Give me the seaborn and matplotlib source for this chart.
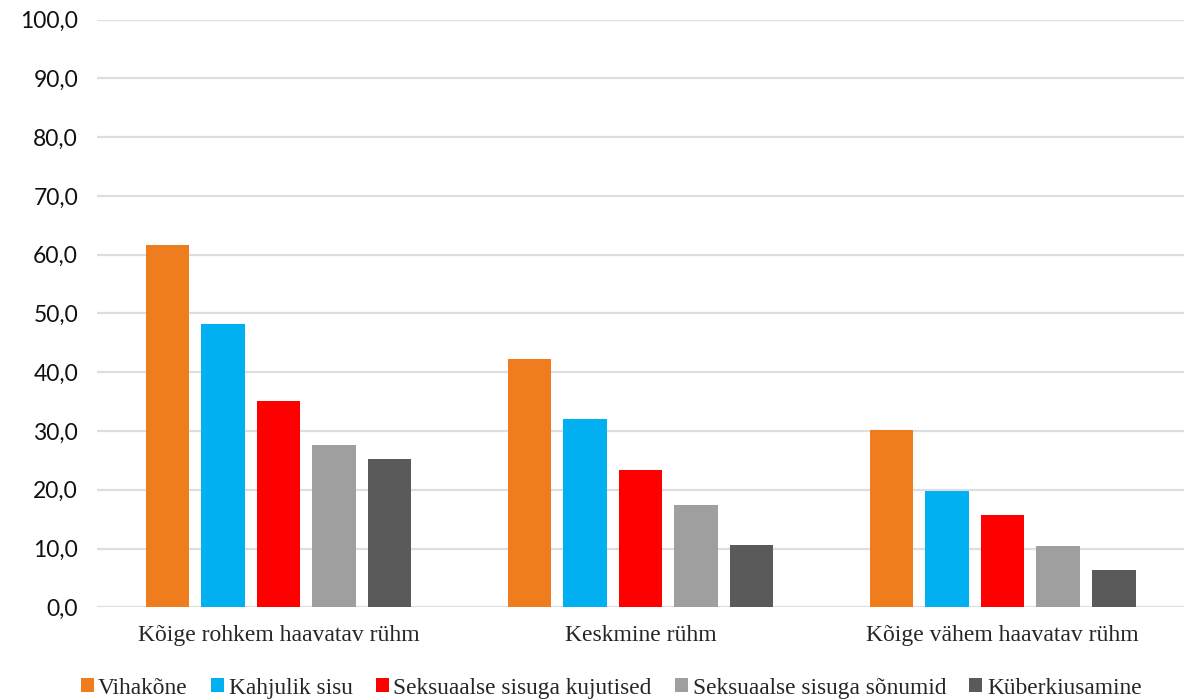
import numpy as np
import pandas as pd
import matplotlib
matplotlib.use("Agg")
import matplotlib.pyplot as plt
import seaborn as sns
from matplotlib.ticker import FuncFormatter, MultipleLocator

# groups on the x axis
groups = ["Kõige rohkem haavatav rühm", "Keskmine rühm", "Kõige vähem haavatav rühm"]

# series (hue), values
series = ["Vihakõne", "Kahjulik sisu", "Seksuaalse sisuga kujutised",
          "Seksuaalse sisuga sõnumid", "Küberkiusamine"]
vihakone = [61.6, 42.3, 30.2]
kahjulik = [48.2, 32.0, 19.8]
kujutised = [35.1, 23.4, 15.7]
sonumid = [27.7, 17.4, 10.4]
kiusamine = [25.3, 10.6, 6.3]

colors = ["#EF7D1E", "#00B0F0", "#FF0000", "#9F9F9F", "#5A5A5A"]

values = [vihakone, kahjulik, kujutised, sonumid, kiusamine]
df = pd.DataFrame({
    "group": groups * len(series),
    "series": np.repeat(series, len(groups)),
    "value": np.concatenate(values),
})

sns.set_style("white")

fig = plt.figure(figsize=(11.89, 7.0), dpi=100)
ax = fig.add_axes([0.082, 0.1324, 0.9135, 0.8395])

sns.barplot(data=df, x="group", y="value", hue="series", order=groups,
            hue_order=series, palette=colors, saturation=1,
            width=0.767, gap=0.215, linewidth=0, ax=ax)

ax.set_ylim(0, 100)
ax.set_xlim(-0.5, 2.5)
ax.yaxis.set_major_locator(MultipleLocator(10))
ax.yaxis.set_major_formatter(FuncFormatter(lambda v, p: f"{v:.1f}".replace(".", ",")))
ax.grid(axis="y", color="#DEDEDE", linewidth=1.6)
ax.set_axisbelow(True)
for s in ax.spines.values():
    s.set_visible(False)
ax.tick_params(axis="both", length=0)
ax.tick_params(axis="y", pad=14, labelsize=16.5, labelcolor="#111111")
for t in ax.get_yticklabels():
    t.set_family(["Lato", "DejaVu Sans"])
ax.tick_params(axis="x", pad=13)
for t in ax.get_xticklabels():
    t.set_family("Liberation Serif")
    t.set_fontsize(17)
ax.set_xlabel("")
ax.set_ylabel("")

handles, labels = ax.get_legend_handles_labels()
ax.legend(handles, labels, loc="center", bbox_to_anchor=(0.514, 0.017),
          bbox_transform=fig.transFigure, ncol=5,
          frameon=False, prop={"family": "Liberation Serif", "size": 16.8},
          handlelength=0.55, handleheight=0.55, handletextpad=0.2,
          columnspacing=1.0, borderaxespad=0)

fig.savefig("out.png", dpi=100)
